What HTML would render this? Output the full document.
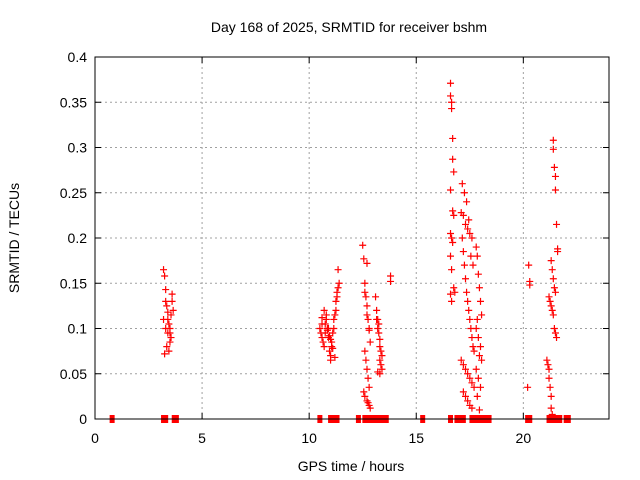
<!DOCTYPE html>
<html><head><meta charset="utf-8"><style>
body{margin:0;background:#fff}
svg{display:block;font-family:"Liberation Sans",sans-serif}
</style></head><body>
<svg id="c" width="640" height="480">
<rect x="0" y="0" width="640" height="480" fill="#fff"/>
<text x="349" y="32" font-size="14" text-anchor="middle">Day 168 of 2025, SRMTID for receiver bshm</text>
<text x="351" y="471" font-size="14" text-anchor="middle">GPS time / hours</text>
<text transform="translate(19,238) rotate(-90)" font-size="14" text-anchor="middle">SRMTID / TECUs</text>
<g id="grid"></g><g id="marks"></g>
<rect x="95" y="57" width="514" height="362" fill="none" stroke="#000" stroke-width="1"/>
</svg>
<script>
const xTicks=[0,5,10,15,20];
const yTicks=[0,0.05,0.1,0.15,0.2,0.25,0.3,0.35,0.4];
const yTickLabels=["0","0.05","0.1","0.15","0.2","0.25","0.3","0.35","0.4"];
const times=[
3.2,3.25,3.3,3.3,3.35,3.4,3.4,3.45,3.5,3.5,3.55,3.6,3.6,3.65,3.3,3.4,3.5,3.35,3.45,3.55,3.2,3.25,
10.5,10.55,10.6,10.6,10.65,10.7,10.75,10.8,10.85,10.9,10.95,11.0,11.0,11.05,11.1,11.15,11.2,11.25,11.3,11.35,10.7,10.8,10.9,11.0,11.1,11.2,10.6,10.75,10.85,10.95,11.05,11.15,11.25,11.3,11.35,11.4,
12.5,12.55,12.6,12.6,12.65,12.7,12.7,12.75,12.8,12.8,12.85,12.6,12.65,12.7,12.75,12.8,12.55,12.6,12.7,12.75,12.8,12.85,12.7,
13.1,13.15,13.2,13.2,13.25,13.3,13.3,13.35,13.4,13.15,13.25,13.3,13.35,13.4,13.2,13.3,13.8,13.8,
16.6,16.6,16.65,16.65,16.7,16.7,16.75,16.6,16.7,16.75,16.6,16.65,16.7,16.6,16.65,16.75,16.8,16.6,16.65,
17.1,17.15,17.2,17.25,17.3,17.35,17.4,17.45,17.5,17.55,17.6,17.65,17.7,17.1,17.2,17.3,17.4,17.5,17.6,17.7,17.2,17.3,17.4,17.5,17.6,17.15,17.25,17.35,17.45,17.55,17.65,17.2,17.3,17.4,17.5,17.6,
17.8,17.85,17.9,17.95,18.0,18.05,17.8,17.9,18.0,17.85,17.95,18.05,17.8,17.9,18.0,17.85,17.95,
20.2,20.25,20.3,20.3,
21.1,21.15,21.2,21.2,21.25,21.3,21.3,21.35,21.4,21.4,21.45,21.5,21.5,21.55,21.6,21.6,21.3,21.35,21.4,21.45,21.5,21.2,21.25,21.3,21.35,21.4,21.45,21.5,21.55];
const values=[
0.165,0.158,0.143,0.13,0.125,0.118,0.11,0.105,0.1,0.095,0.09,0.138,0.13,0.12,0.1,0.095,0.085,0.08,0.075,0.115,0.11,0.072,
0.1,0.095,0.105,0.09,0.085,0.08,0.095,0.11,0.1,0.09,0.075,0.07,0.065,0.08,0.095,0.11,0.115,0.13,0.14,0.165,0.12,0.115,0.1,0.088,0.078,0.068,0.112,0.105,0.098,0.092,0.085,0.1,0.12,0.135,0.145,0.15,
0.192,0.177,0.15,0.14,0.135,0.125,0.115,0.11,0.1,0.098,0.085,0.075,0.065,0.055,0.045,0.035,0.03,0.025,0.02,0.018,0.015,0.012,0.172,
0.135,0.12,0.11,0.1,0.095,0.088,0.08,0.075,0.07,0.11,0.105,0.065,0.06,0.055,0.052,0.05,0.158,0.152,
0.371,0.357,0.35,0.343,0.31,0.287,0.273,0.253,0.23,0.225,0.205,0.2,0.195,0.18,0.165,0.145,0.14,0.138,0.13,
0.228,0.2,0.185,0.17,0.155,0.14,0.13,0.12,0.11,0.1,0.09,0.08,0.075,0.065,0.06,0.055,0.05,0.045,0.04,0.035,0.225,0.215,0.21,0.205,0.2,0.26,0.25,0.24,0.22,0.18,0.17,0.03,0.025,0.02,0.015,0.012,
0.19,0.18,0.16,0.145,0.13,0.115,0.1,0.09,0.08,0.11,0.07,0.065,0.055,0.045,0.035,0.025,0.01,
0.035,0.17,0.152,0.148,
0.065,0.06,0.055,0.045,0.035,0.025,0.012,0.005,0.308,0.298,0.278,0.268,0.253,0.215,0.188,0.185,0.175,0.165,0.155,0.145,0.14,0.135,0.13,0.125,0.12,0.115,0.1,0.095,0.09];
const zeroTimes=[0.8,3.2,3.3,3.7,3.8,10.5,11.0,11.2,11.3,12.3,12.6,12.8,13.0,13.2,13.3,13.5,13.6,15.3,16.6,16.9,17.0,17.2,17.6,17.8,17.9,18.0,18.2,18.4,20.2,20.3,21.2,21.3,21.5,21.7,22.0,22.1];
const X0=95,X1=609,Y0=419,Y1=57;
const xs=h=>X0+h/24*(X1-X0);
const ys=v=>Y0-v/0.4*(Y0-Y1);
const NS="http://www.w3.org/2000/svg";
const grid=document.getElementById('grid'),marks=document.getElementById('marks');
function mk(p,tag,a){const e=document.createElementNS(NS,tag);for(const k in a)e.setAttribute(k,a[k]);p.appendChild(e);return e;}
yTicks.forEach((t,i)=>{const y=ys(t);
 if(i>0&&i<yTicks.length-1){const g=mk(grid,'line',{x1:X0,x2:X1,y1:y,y2:y,stroke:'#a0a0a0','stroke-dasharray':'2,3'});
 
 }
 mk(grid,'line',{x1:X0,x2:X0+6,y1:y,y2:y,stroke:'#000'});
 mk(grid,'line',{x1:X1,x2:X1-6,y1:y,y2:y,stroke:'#000'});
 const tx=mk(grid,'text',{x:X0-8,y:y+5,'font-size':14,'text-anchor':'end'});tx.textContent=yTickLabels[i];
 
 
});
xTicks.forEach(t=>{const x=xs(t);
 if(t>0){const g=mk(grid,'line',{x1:x,x2:x,y1:Y0,y2:Y1,stroke:'#a0a0a0','stroke-dasharray':'2,3'});
 
 }
 mk(grid,'line',{x1:x,x2:x,y1:Y0,y2:Y0-6,stroke:'#000'});
 mk(grid,'line',{x1:x,x2:x,y1:Y1,y2:Y1+6,stroke:'#000'});
 const tx=mk(grid,'text',{x:x,y:Y0+24,'font-size':14,'text-anchor':'middle'});tx.textContent=t;
 
 
});
function plus(h,v){const x=xs(h),y=ys(v);
 const p=mk(marks,'path',{d:`M${x-3.5},${y}H${x+3.5}M${x},${y-3.5}V${y+3.5}`,stroke:'#f00','stroke-width':1.2,fill:'none'});
 
 }
times.forEach((h,i)=>plus(h,values[i]));
zeroTimes.forEach(h=>{const x=xs(h);
 const r=mk(marks,'rect',{x:x-2.5,y:Y0-4,width:5,height:8,fill:'#f00'});
 
 });
</script>
</body></html>
